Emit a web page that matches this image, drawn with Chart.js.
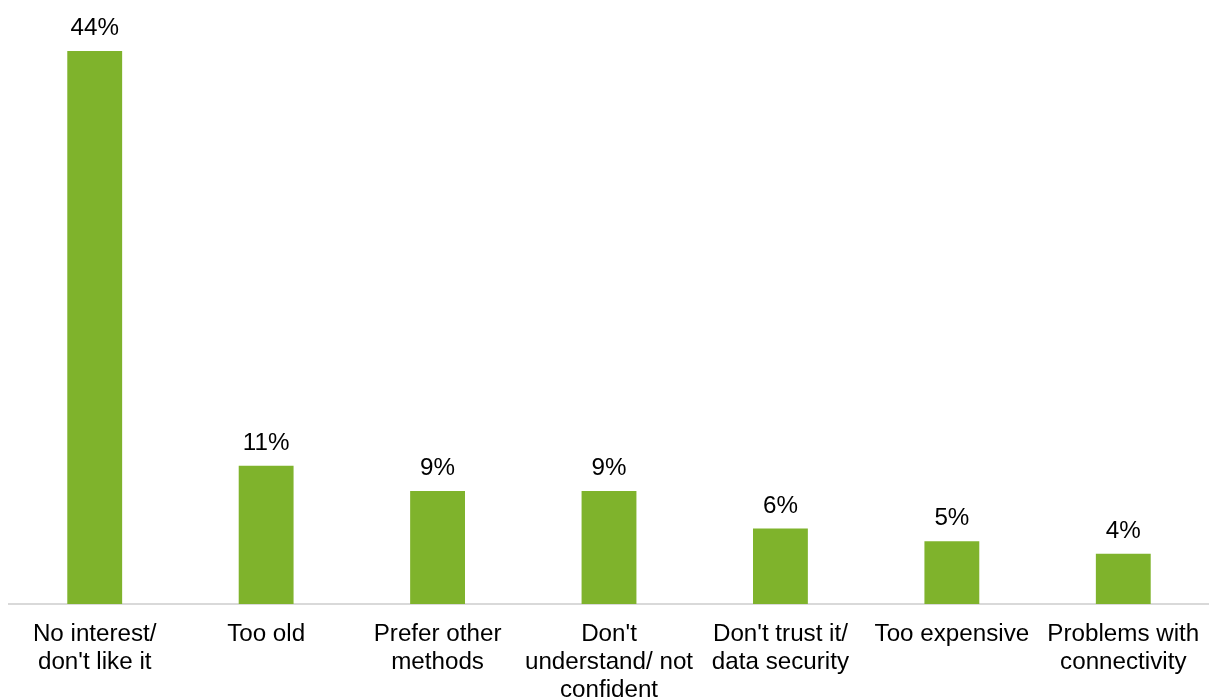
<!DOCTYPE html>
<html>
<head>
<meta charset="utf-8">
<title>Reasons for not using</title>
<script src="https://cdn.jsdelivr.net/npm/chart.js@4/dist/chart.umd.min.js"></script>
<style>
  html, body { margin: 0; padding: 0; background: #ffffff; }
  #wrap { width: 1209px; height: 700px; position: relative; }
</style>
</head>
<body>
<div id="wrap"><canvas id="chart"></canvas></div>
<script>
// Reasons given, one category per bar (multi-line tick labels)
const categories = [
  ["No interest/", "don't like it"],
  ["Too old"],
  ["Prefer other", "methods"],
  ["Don't", "understand/ not", "confident"],
  ["Don't trust it/", "data security"],
  ["Too expensive"],
  ["Problems with", "connectivity"]
];

// Share of respondents, percent
const shares = [44, 11, 9, 9, 6, 5, 4];

const FONT = '"Liberation Sans", Arial, Helvetica, sans-serif';
const FONT_SIZE = 24.2;
const BAR_GREEN = '#7FB32C';

// Writes the percentage above each bar
const valueLabels = {
  id: 'valueLabels',
  afterDatasetsDraw(chart) {
    const ctx = chart.ctx;
    const meta = chart.getDatasetMeta(0);
    const values = chart.data.datasets[0].data;
    ctx.save();
    ctx.font = FONT_SIZE + 'px ' + FONT;
    ctx.fillStyle = '#000000';
    ctx.textAlign = 'center';
    ctx.textBaseline = 'alphabetic';
    meta.data.forEach((bar, i) => {
      ctx.fillText(Math.round(values[i]) + '%', bar.x, bar.y - 16);
    });
    ctx.restore();
  }
};

new Chart(document.getElementById('chart'), {
  type: 'bar',
  data: {
    labels: categories,
    datasets: [{
      data: shares,
      backgroundColor: BAR_GREEN,
      borderWidth: 0,
      barPercentage: 0.32,
      categoryPercentage: 1.0
    }]
  },
  options: {
    responsive: true,
    maintainAspectRatio: false,
    animation: false,
    layout: { padding: { top: 51, left: 9, right: -2, bottom: 0 } },
    plugins: {
      legend: { display: false },
      tooltip: { enabled: false }
    },
    scales: {
      x: {
        grid: { display: false, drawTicks: false },
        border: { display: true, color: '#D9D9D9', width: 2 },
        ticks: {
          color: '#000000',
          padding: 16,
          maxRotation: 0,
          autoSkip: false,
          font: { family: FONT, size: FONT_SIZE, lineHeight: 1.16 }
        },
        afterFit(scale) {
          // fixed label band; the end labels fit inside their own category slots
          scale.height = 96;
          scale.paddingLeft = 0;
          scale.paddingRight = 0;
        }
      },
      y: {
        display: false,
        min: 0,
        max: 44
      }
    }
  },
  plugins: [valueLabels]
});
</script>
</body>
</html>
